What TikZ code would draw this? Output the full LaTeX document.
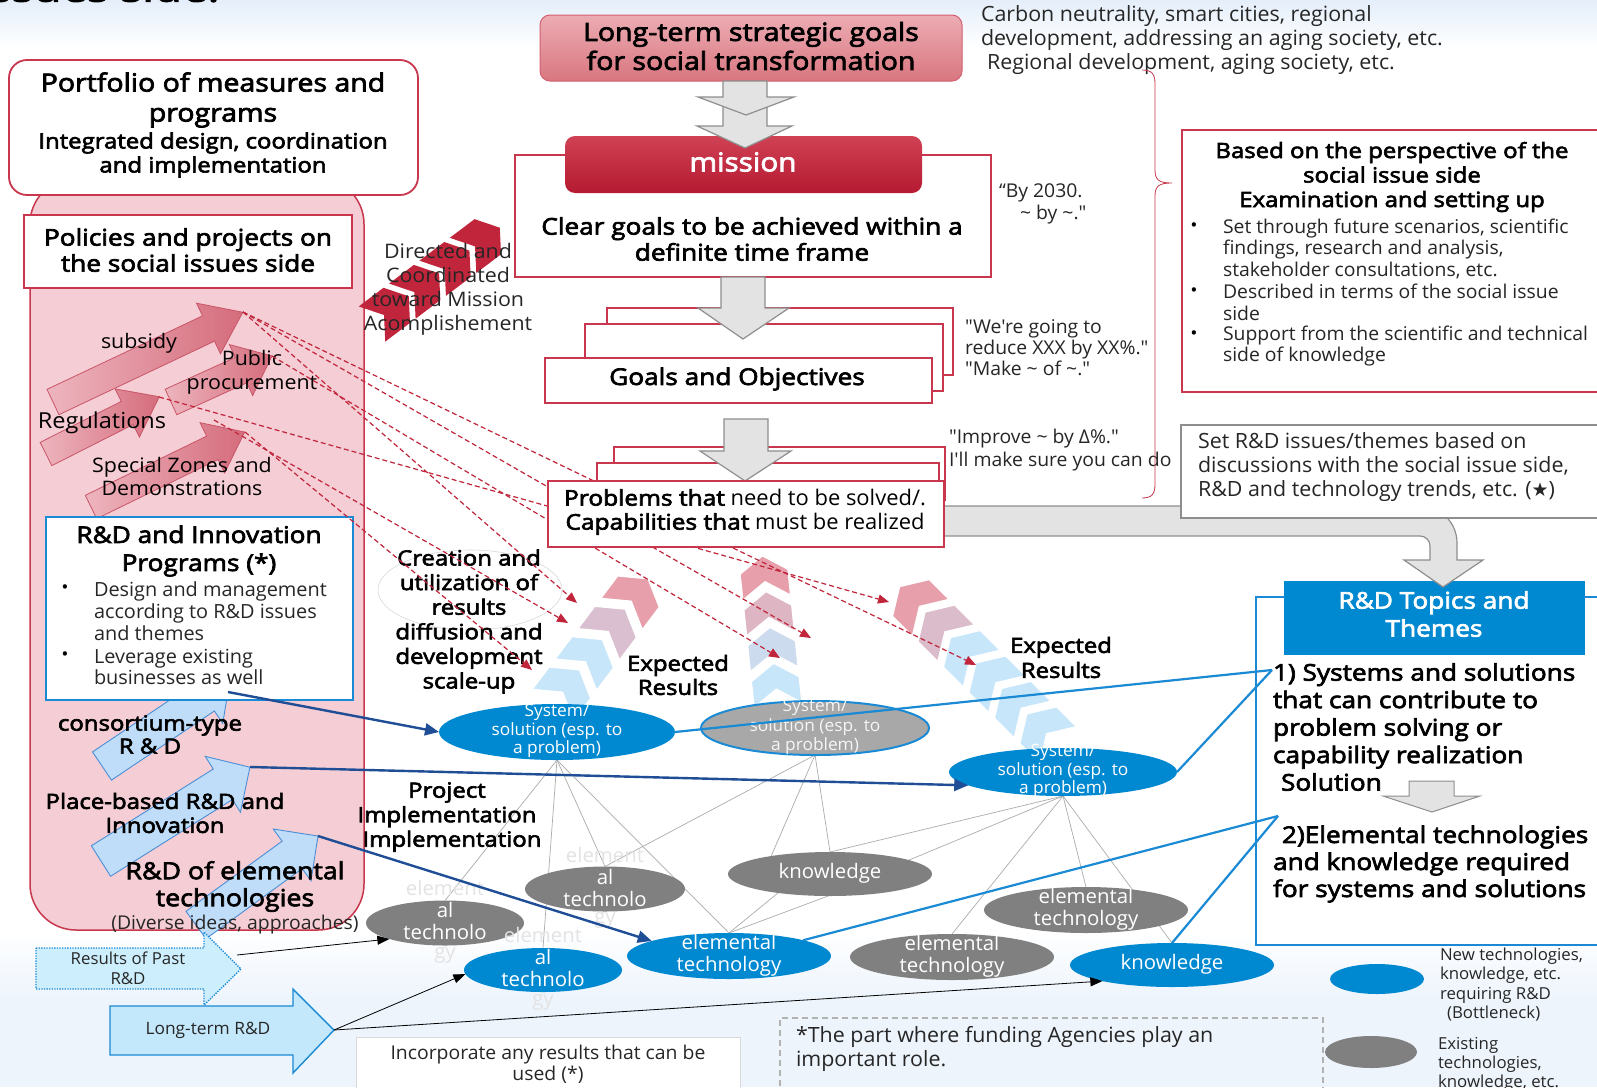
\documentclass[tikz,border=0pt]{standalone}
\usepackage{fontspec}
\setmainfont{Open Sans}[FakeStretch=1.07, AutoFakeBold=3]
\newfontfamily\cnd{Open Sans}[FakeStretch=1.02, AutoFakeBold=3]
\newfontfamily\bff{Open Sans}[FakeStretch=1.14, FakeBold=3]
\newfontfamily\djv{DejaVu Sans}
\usetikzlibrary{shapes.geometric,arrows.meta}
\pgfdeclarelayer{bg}
\pgfdeclarelayer{links}
\pgfsetlayers{bg,links,main}

\definecolor{bred}{HTML}{C8374D}
\definecolor{dred}{HTML}{C1253B}
\definecolor{pinkbg}{HTML}{F5CDD4}
\definecolor{ltpinkT}{HTML}{ECACB3}
\definecolor{ltpinkB}{HTML}{D9767F}
\definecolor{misT}{HTML}{D04154}
\definecolor{misB}{HTML}{B51A31}
\definecolor{arrpinkA}{HTML}{EDB5BE}
\definecolor{arrpinkB}{HTML}{D56C7C}
\definecolor{arrpinkD}{HTML}{C95568}
\definecolor{chblue}{HTML}{C8E6FA}
\definecolor{chpink}{HTML}{E7A0AB}
\definecolor{eblue}{HTML}{0088D1}
\definecolor{lblue}{HTML}{1A8AD4}
\definecolor{dblue}{HTML}{1F4E96}
\definecolor{egray}{HTML}{808080}
\definecolor{sgray}{HTML}{A8A8A8}
\definecolor{agray}{HTML}{E3E3E3}
\definecolor{agrayD}{HTML}{8E8E8E}
\definecolor{txt}{HTML}{262626}
\definecolor{skyT}{HTML}{E4EEFA}
\definecolor{skyB}{HTML}{EDF4FC}
\definecolor{barrF}{HTML}{BFDDF8}
\definecolor{barrD}{HTML}{4A8FD8}
\definecolor{pastF}{HTML}{CDEEFC}
\definecolor{longF}{HTML}{C3E7FB}

\newcommand\fsz[2]{\fontsize{#1}{#2}\selectfont}

% straight block arrow: style, tail point, angle, length, shaft half width, head half width, head length
\newcommand\blockarr[7]{%
  \begin{scope}[shift={#2},rotate=#3]
    \path[#1] (0,-#5) -- ({#4-#7},-#5) -- ({#4-#7},-#6) -- (#4,0)
      -- ({#4-#7},#6) -- ({#4-#7},#5) -- (0,#5) -- cycle;
  \end{scope}}

% row of chevrons: style, origin, angle, step, length, half width, notch, list index/pink share
\newcommand\chevrow[8]{%
  \begin{scope}[shift={#2},rotate=#3]
    \foreach \ci/\cp in {#8}{%
      \path[chev,fill=chpink!\cp!chblue,#1]
        ({\ci*#4},-#6) -- ({\ci*#4+#5},-#6) -- ({\ci*#4+#5+#7},0)
        -- ({\ci*#4+#5},#6) -- ({\ci*#4},#6) -- ({\ci*#4+#7},0) -- cycle;
    }
  \end{scope}}

\tikzset{
  redbox/.style={draw=bred, line width=1.8pt, fill=white},
  grayarr/.style={draw=agrayD, line width=1.2pt, fill=agray},
  chev/.style={draw=white, line width=1.2pt},
  pinkarr/.style={left color=arrpinkA, right color=arrpinkB, draw=arrpinkD, line width=0.8pt},
  bluearr/.style={fill=barrF, draw=barrD, line width=0.9pt},
  bell/.style={ellipse, fill=eblue, draw=none},
  gell/.style={ellipse, fill=egray, draw=none},
  etext/.style={text=white, font=\cnd\fsz{20}{22}, align=center},
  ftext/.style={text=gray!22, font=\cnd\fsz{20}{22}},
  glink/.style={draw=gray!65, line width=0.7pt},
  rdash/.style={draw=dred, line width=1.2pt, dash pattern=on 5pt off 3pt, -{Triangle[length=11pt,width=9pt]}},
  dbluearr/.style={draw=dblue, line width=2.4pt, -{Triangle[length=14pt,width=12pt]}},
  lbl/.style={draw=lblue, line width=2.2pt},
  blk/.style={draw=black, line width=0.8pt, -{Triangle[length=12pt,width=9pt]}},
  hd/.style={align=center},
  cn/.style={text=txt, align=left},
}

\begin{document}
\begin{tikzpicture}[x=1pt,y=-1pt, every node/.style={inner sep=0pt, outer sep=0pt}]
\useasboundingbox (0,0) rectangle (1597,1087);

% ---------- background ----------
\begin{pgfonlayer}{bg}
  \fill[white] (0,0) rectangle (1597,1087);
  \shade[top color=skyT, bottom color=white] (0,0) rectangle (1597,48);
  \shade[top color=white, bottom color=skyB] (0,930) rectangle (1597,1000);
  \fill[skyB] (0,1000) rectangle (1597,1087);
\end{pgfonlayer}

\node[anchor=base west, font=\bff\fsz{40}{44}] (ttl) at (-10,1.5) {ssues side:};

% ---------- R&D topics frame (under the feeding arrow) ----------
\node[draw=lblue, line width=2.2pt, fill=white, minimum width=364pt, minimum height=348pt] (topics) at (1438,771) {};
\node[fill=eblue, minimum width=301pt, minimum height=74pt] (topicsH) at (1434.5,618) {};
\node[hd, text=white, font=\bff\fsz{23}{28}] (topicsT) at (1434,614) {R\&D Topics and\\Themes};

% feeding band from the problems box to R&D topics
\path[grayarr] (930,506) -- (1420,506) arc[start angle=-90, end angle=0, radius=37]
  -- (1457,560) -- (1483,560) -- (1443,587) -- (1404,560) -- (1430,560) -- (1430,546)
  arc[start angle=0, end angle=-90, radius=10] -- (930,536) -- cycle;

% ---------- right-hand notes ----------
\node[draw=agrayD, line width=2.4pt, fill=white, minimum width=439pt, minimum height=93pt] (setbox) at (1400.5,471.5) {};
\node[cn, anchor=west, font=\cnd\fsz{21}{24}] (setT) at (1198,467) {Set R\&D issues/themes based on\\discussions with the social issue side,\\R\&D and technology trends, etc. ({\djv\fsz{19}{24}★})};

\node[redbox, minimum width=438pt, minimum height=262pt] (based) at (1401,261) {};
\node[hd, font=\bff\fsz{21}{24.5}] (basedT) at (1392,177) {Based on the perspective of the\\social issue side\\Examination and setting up};
\node[font=\fsz{18}{20}] (bu1) at (1194,227) {\textbullet};
\node[font=\fsz{18}{20}] (bu2) at (1194,292) {\textbullet};
\node[font=\fsz{18}{20}] (bu3) at (1194,335) {\textbullet};
\node[cn, anchor=west, font=\cnd\fsz{19}{21.5}] (bt1) at (1223,248.5) {Set through future scenarios, scientific\\findings, research and analysis,\\stakeholder consultations, etc.};
\node[cn, anchor=west, font=\cnd\fsz{19}{21.5}] (bt2) at (1223,302.5) {Described in terms of the social issue\\side};
\node[cn, anchor=west, font=\cnd\fsz{19}{21.5}] (bt3) at (1223,346) {Support from the scientific and technical\\side of knowledge};

\node[cn, anchor=west, font=\cnd\fsz{21}{24}] (carbon) at (981,40) {Carbon neutrality, smart cities, regional\\development, addressing an aging society, etc.\\\hspace*{6pt}Regional development, aging society, etc.};
\node[cn, anchor=west, font=\cnd\fsz{19}{22}] (by2030) at (999,204) {“By 2030.\\\hspace*{21pt}\textasciitilde{} by \textasciitilde."};
\node[cn, anchor=west, font=\cnd\fsz{19}{21}] (reduce) at (965,348) {"We're going to\\reduce XXX by XX\%."\\"Make \textasciitilde{} of \textasciitilde."};
\node[cn, anchor=west, font=\cnd\fsz{19}{23}] (improve) at (949,450.5) {"Improve \textasciitilde{} by Δ\%."\\I'll make sure you can do};

% brace grouping the goal levels
\draw[bred, line width=0.8pt] (1142,70) .. controls (1152,70) and (1155,74) .. (1155,84)
  -- (1155,170) .. controls (1155,180) and (1159,183) .. (1172,183)
  .. controls (1159,183) and (1155,186) .. (1155,196)
  -- (1155,484) .. controls (1155,494) and (1152,498) .. (1142,498);

% ---------- left panel ----------
\node[draw=bred, line width=1.5pt, fill=pinkbg, rounded corners=46pt, minimum width=334pt, minimum height=752pt] (side) at (197,554) {};
\node[redbox, rounded corners=18pt, minimum width=409pt, minimum height=135pt] (portf) at (213.5,127.5) {};
\node[hd, font=\bff\fsz{25}{30}] (portfT) at (213,100) {Portfolio of measures and\\programs};
\node[hd, font=\bff\fsz{21}{24}] (portfS) at (213,155) {Integrated design, coordination\\and implementation};
\node[redbox, minimum width=328pt, minimum height=73pt] (policy) at (188,251.5) {};
\node[hd, font=\bff\fsz{23}{26}] (policyT) at (188,250) {Policies and projects on\\the social issues side};

% policy instruments
\blockarr{pinkarr}{(53,402)}{25.3}{210}{14}{28}{38}
\blockarr{pinkarr}{(46,454)}{26.8}{127}{13}{27}{36}
\blockarr{pinkarr}{(171,402)}{24.5}{111}{14}{28}{34}
\blockarr{pinkarr}{(91,507)}{26}{171}{13}{28}{36}
\coordinate (subTip) at (243,312);
\coordinate (pubTip) at (272,356);
\coordinate (regTip) at (159,397);
\coordinate (regHead) at (214,420);
\coordinate (spTip) at (245,432);
\node[font=\fsz{20}{23}] (subT) at (139,343) {subsidy};
\node[font=\fsz{20}{24}, align=center] (pubT) at (252,372) {Public\\procurement};
\node[font=\fsz{22}{25}] (regT) at (102,423) {Regulations};
\node[font=\fsz{20}{23}, align=center] (spT) at (182,476.5) {Special Zones and\\Demonstrations};

% R&D instruments
\blockarr{bluearr}{(102,766)}{33.9}{154}{17}{32}{30}
\blockarr{bluearr}{(101,861)}{32.2}{176}{18}{33}{32}
\blockarr{bluearr}{(196,925)}{36.1}{151}{17}{32}{32}
\coordinate (plTip) at (250,767);
\coordinate (elTip) at (318,836);

\node[draw=lblue, line width=2pt, fill=white, minimum width=307pt, minimum height=183pt] (rdprog) at (199.5,608.5) {};
\node[hd, font=\bff\fsz{23}{28}] (rdprogT) at (199,551) {R\&D and Innovation\\Programs (*)};
\node[font=\fsz{18}{20}] (rb1) at (65,589) {\textbullet};
\node[font=\fsz{18}{20}] (rb2) at (65,656) {\textbullet};
\node[anchor=west, align=left, font=\cnd\fsz{19.5}{22}, text=txt] (rt1) at (94,611) {Design and management\\according to R\&D issues\\and themes};
\node[anchor=west, align=left, font=\cnd\fsz{19.5}{21}, text=txt] (rt2) at (94,666.5) {Leverage existing\\businesses as well};
\coordinate (rdS) at (228,692);

\node[hd, font=\bff\fsz{21}{23}] (consT) at (150,734.5) {consortium-type\\R \& D};
\node[hd, font=\bff\fsz{21}{24}] (placeT) at (165,813) {Place-based R\&D and\\Innovation};
\node[hd, font=\bff\fsz{23.5}{27}] (elemT) at (235,886.5) {R\&D of elemental\\technologies};
\node[font=\cnd\fsz{19}{22}, text=txt] (divT) at (235,925) {(Diverse ideas, approaches)};

% directed toward the mission
\chevrow{fill=dred, draw=none}{(372,324)}{37}{38}{31}{22}{15}{0/0,1/0,2/0,3/0}
\node[font=\fsz{20}{24}, align=center, text=txt] (dirT) at (448,289) {Directed and\\Coordinated\\toward Mission\\Acomplishement};

% expected results flowing upward
\chevrow{}{(553,705)}{53}{38}{28}{26}{16}{0/0,1/0,2/55,3/100}
\chevrow{}{(778,705)}{96}{36}{26}{24}{16}{0/0,1/15,2/70,3/100}
\chevrow{}{(1058,745)}{135}{36}{28}{26}{16}{0/0,1/0,2/0,3/0,4/60,5/100}
\node[hd, font=\bff\fsz{21}{24}] (exp1) at (678,675) {Expected\\Results};
\node[hd, font=\bff\fsz{21}{25}] (exp2) at (1061,657.5) {Expected\\Results};

\node[ellipse, draw=gray!30, line width=0.6pt, minimum width=184pt, minimum height=80pt] (creE) at (470,590) {};
\node[hd, font=\bff\fsz{21}{24.6}] (creT) at (469,621.5) {Creation and\\utilization of\\results\\diffusion and\\development\\scale-up};

% contributions of instruments to results
\coordinate (r1) at (577,603);
\coordinate (r2) at (568,623);
\coordinate (r3) at (532,670);
\coordinate (r4) at (811,638);
\coordinate (r5) at (780,658);
\coordinate (r6) at (889,602);
\coordinate (r7) at (976,665);
\draw[rdash] (subTip) -- (r7);
\draw[rdash] (subTip) -- (r4);
\draw[rdash] (subTip) -- (r1);
\draw[rdash] (pubTip) -- (r5);
\draw[rdash] (regTip) -- (r6);
\draw[rdash] (regHead) -- (r2);
\draw[rdash] (spTip) -- (r3);

% ---------- central goal cascade ----------
\node[draw=bred!80, line width=1pt, rounded corners=10pt, top color=ltpinkT, bottom color=ltpinkB, minimum width=422pt, minimum height=66pt] (ltg) at (751,48) {};
\node[hd, font=\bff\fsz{25}{29}] (ltgT) at (751,46) {Long-term strategic goals\\for social transformation};

\node[redbox, minimum width=476pt, minimum height=122pt] (mis) at (753,216) {};
\node[rounded corners=10pt, top color=misT, bottom color=misB, minimum width=357pt, minimum height=57pt] (misL) at (743.5,164.5) {};
\node[text=white, font=\bff\fsz{26}{30}] (misLT) at (743,162) {mission};
\node[hd, font=\bff\fsz{23}{26}] (misT) at (752,239) {Clear goals to be achieved within a\\definite time frame};

\path[grayarr] (723,97) -- (767,97) -- (767,126) -- (792,126) -- (745,148) -- (697,126) -- (723,126) -- cycle;
\path[grayarr] (723,81) -- (767,81) -- (767,97) -- (794,97) -- (746,115) -- (698,97) -- (723,97) -- cycle;

\node[redbox, minimum width=346pt, minimum height=67pt] (goalB1) at (780,341.5) {};
\node[redbox, minimum width=358pt, minimum height=67pt] (goalB2) at (764,357.5) {};
\path[grayarr] (721,277) -- (765,277) -- (765,308) -- (789,308) -- (743,339) -- (698,308) -- (721,308) -- cycle;
\node[redbox, minimum width=387pt, minimum height=45pt] (goal) at (738.5,380.5) {};
\node[hd, font=\bff\fsz{23}{26}] (goalT) at (737,379) {Goals and Objectives};

\node[redbox, minimum width=331pt, minimum height=53pt] (probB1) at (779.5,473.5) {};
\node[redbox, minimum width=342pt, minimum height=47pt] (probB2) at (768,486.5) {};
\path[grayarr] (724,419) -- (768,419) -- (768,451) -- (791,451) -- (745,481) -- (700,451) -- (724,451) -- cycle;
\node[redbox, minimum width=396pt, minimum height=66pt] (prob) at (746,514) {};
\node[font=\cnd\fsz{21.5}{24}, align=center] (probT) at (745,512) {{\bff Problems that} need to be solved/.\\{\bff Capabilities that} must be realized};

% ---------- systems, technologies and knowledge ----------
\node[bell, minimum width=236pt, minimum height=56pt] (sysA) at (557,732) {};
\node[ellipse, fill=sgray, draw=lblue, line width=2pt, minimum width=228pt, minimum height=54pt] (sysB) at (815,728) {};
\node[bell, minimum width=228pt, minimum height=48pt] (sysC) at (1063,772) {};
\node[gell, minimum width=158pt, minimum height=45pt] (etL) at (445,923) {};
\node[gell, minimum width=160pt, minimum height=45pt] (etM) at (605,889) {};
\node[bell, minimum width=158pt, minimum height=44pt] (etB) at (543,970) {};
\node[bell, minimum width=204pt, minimum height=46pt] (etBlue) at (729,956) {};
\node[gell, minimum width=204pt, minimum height=44pt] (know) at (830,874) {};
\node[gell, minimum width=204pt, minimum height=46pt] (etG1) at (952,957) {};
\node[gell, minimum width=204pt, minimum height=46pt] (etG2) at (1086,910) {};
\node[bell, minimum width=204pt, minimum height=44pt] (knowB) at (1172,965) {};

\node[etext, font=\cnd\fsz{17}{18.5}] (sysAT) at (557,731) {System/\\solution (esp. to\\a problem)};
\node[etext, font=\cnd\fsz{17}{19.5}, text=white!92!gray] (sysBT) at (815,727) {System/\\solution (esp. to\\a problem)};
\node[etext, font=\cnd\fsz{17}{18.5}] (sysCT) at (1063,771) {System/\\solution (esp. to\\a problem)};

\node[ftext] (etLa) at (445,888) {element};
\node[etext] (etLb) at (445,921) {al\\technolo};
\node[ftext] (etLc) at (445,955) {gy};
\node[ftext] (etMa) at (605,855) {element};
\node[etext] (etMb) at (605,887.5) {al\\technolo};
\node[ftext] (etMc) at (605,920) {gy};
\node[ftext] (etBa) at (543,935) {element};
\node[etext] (etBb) at (543,967.5) {al\\technolo};
\node[ftext] (etBc) at (543,1002) {gy};
\node[etext, font=\cnd\fsz{20}{22}] (etBlueT) at (729,955) {elemental\\technology};
\node[etext, font=\cnd\fsz{20}{22}] (etG1T) at (952,956) {elemental\\technology};
\node[etext, font=\cnd\fsz{20}{22}] (etG2T) at (1086,909) {elemental\\technology};
\node[etext] (knowT) at (830,873) {knowledge};
\node[etext] (knowBT) at (1172,964) {knowledge};

\begin{pgfonlayer}{links}
  \draw[glink] (sysA.south) -- (etL.north);
  \draw[glink] (sysA.south) -- (etB.north);
  \draw[glink] (sysA.south) -- (etM.north);
  \draw[glink] (sysA.south) -- (etBlue.north);
  \draw[glink] (sysB.south) -- (etM.north);
  \draw[glink] (sysB.south) -- (know.163);
  \draw[glink] (sysB.south) -- (know.north);
  \draw[glink] (know.200) -- (etBlue.north);
  \draw[glink] (know.265) -- (etBlue.north);
  \draw[glink] (sysC.south) -- (know.north);
  \draw[glink] (sysC.south) -- (know.10);
  \draw[glink] (sysC.south) -- (etG1.north);
  \draw[glink] (sysC.south) -- (etG2.north);
  \draw[glink] (sysC.south) -- (knowB.north);
\end{pgfonlayer}

\node[hd, font=\bff\fsz{21}{24.5}] (projT) at (447,817) {Project\\Implementation\\\hspace*{10pt}Implementation};

% ---------- earlier and long-term research ----------
\path[draw=lblue, line width=1.4pt, dash pattern=on 1.3pt off 1.3pt, fill=pastF]
  (36,948) -- (204,948) -- (204,932) -- (241,969) -- (204,1005) -- (204,989) -- (36,989) -- cycle;
\node[font=\cnd\fsz{16.5}{20}, text=txt, align=center] (pastT) at (128,968) {Results of Past\\R\&D};
\coordinate (pastS) at (237,955);

\path[draw=lblue, line width=1.4pt, fill=longF]
  (110,1006) -- (293,1006) -- (293,989) -- (334,1030) -- (293,1073) -- (293,1055) -- (110,1055) -- cycle;
\node[font=\cnd\fsz{17}{20}, text=txt] (longT) at (208,1030) {Long-term R\&D};
\coordinate (ltTip) at (334,1030);

\node[draw=gray!30, line width=0.8pt, fill=white, minimum width=384pt, minimum height=70pt] (incorp) at (548,1072) {};
\node[font=\cnd\fsz{19}{21}, text=txt, align=center] (incorpT) at (548,1064.5) {Incorporate any results that can be\\used (*)};

\node[draw=gray!60, line width=1.5pt, dash pattern=on 6pt off 4pt, minimum width=543pt, minimum height=82pt] (fund) at (1051.5,1059) {};
\node[cn, anchor=west, font=\cnd\fsz{21}{24}] (fundT) at (796,1049) {*The part where funding Agencies play an\\important role.};

% ---------- connectors ----------
\coordinate (c1) at (1272,670);
\coordinate (c2) at (1278,816);
\draw[lbl] (sysA.east) -- (c1);
\draw[lbl] (sysC.east) -- (c1);
\draw[lbl] (etBlue.12) -- (c2);
\draw[lbl] (knowB.north) -- (c2);

\draw[dbluearr] (rdS) -- (sysA.west);
\draw[dbluearr] (plTip) -- (sysC.188);
\draw[dbluearr] (elTip) -- (etBlue.169);

\draw[blk] (pastS) -- (etL.196);
\draw[blk] (ltTip) -- (etB.183);
\draw[blk] (ltTip) -- (knowB.193);

% ---------- R&D topics content and legend ----------
\node[anchor=west, align=left, font=\bff\fsz{23}{27.5}] (topic1) at (1273,727) {1) Systems and solutions\\that can contribute to\\problem solving or\\capability realization\\\hspace*{8pt}Solution};
\path[grayarr, line width=1pt] (1409,781) -- (1454,781) -- (1454,796) -- (1480,796) -- (1432,812) -- (1383,796) -- (1409,796) -- cycle;
\node[anchor=west, align=left, font=\bff\fsz{23}{27}] (topic2) at (1273,864) {\hspace*{9pt}2)Elemental technologies\\and knowledge required\\for systems and solutions};

\node[bell, minimum width=94pt, minimum height=30pt] (legB) at (1377,979) {};
\node[gell, minimum width=92pt, minimum height=32pt] (legG) at (1371,1052) {};
\node[anchor=west, align=left, font=\cnd\fsz{16.5}{19.5}, text=txt] (legBT) at (1440,984.5) {New technologies,\\knowledge, etc.\\requiring R\&D\\\hspace*{7pt}(Bottleneck)};
\node[anchor=west, align=left, font=\cnd\fsz{16.5}{19}, text=txt] (legGT) at (1438,1064) {Existing\\technologies,\\knowledge, etc.};

\end{tikzpicture}
\end{document}
